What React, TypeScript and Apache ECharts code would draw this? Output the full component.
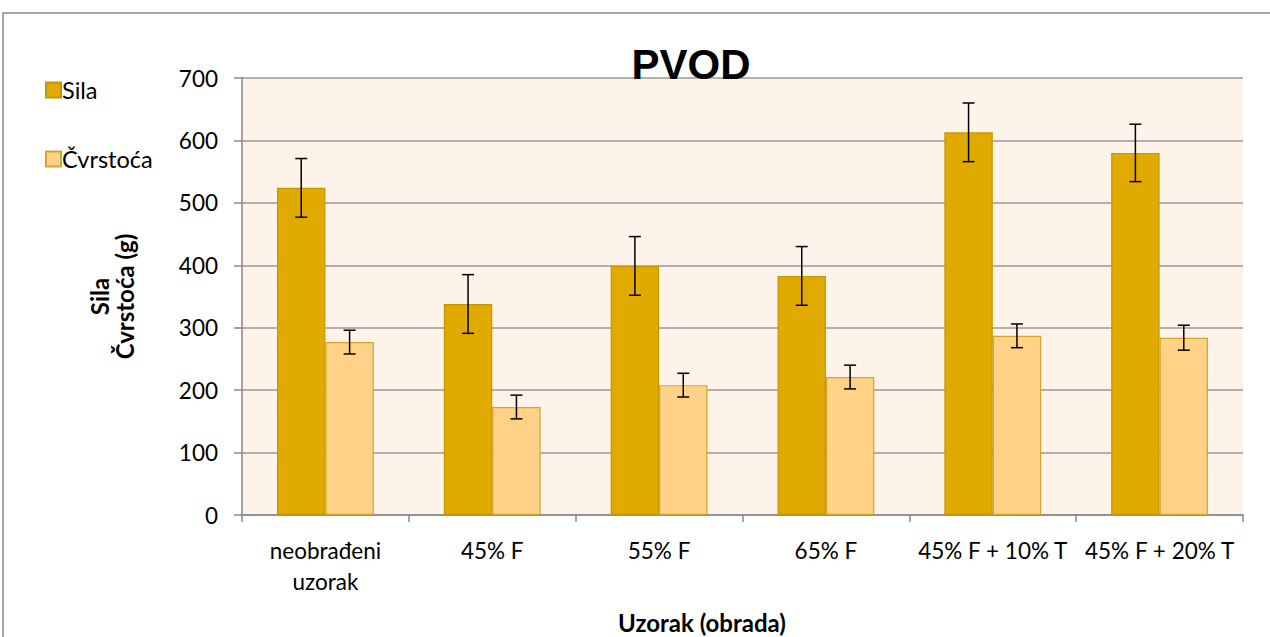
import React, { useEffect, useRef } from "react";
import * as echarts from "echarts";

const categories = ["neobrađeni\nuzorak", "45% F", "55% F", "65% F", "45% F + 10% T", "45% F + 20% T"];
const silaValues = [524, 338, 399, 383, 613, 580];
const silaErrors = [47, 47, 47, 47, 47, 46];
const cvrstocaValues = [277, 173, 208, 221, 287, 284];
const cvrstocaErrors = [19, 19, 19, 19, 19, 20];
const yTicks = { min: 0, max: 700, interval: 100 };
const xAxisTitle = "Uzorak (obrada)";

const FONT = "Lato, 'Open Sans', sans-serif";

function errorSeries(values: number[], errors: number[], side: number) {
  return {
    type: "custom",
    z: 10,
    silent: true,
    data: values.map((v, i) => [i, v - errors[i], v + errors[i]]),
    renderItem: (params: any, api: any) => {
      const i = api.value(0);
      const lo = api.coord([i, api.value(1)]);
      const hi = api.coord([i, api.value(2)]);
      const band = api.size([1, 0])[0];
      const barW = (band * 0.58) / 2;
      const x = lo[0] + side * barW / 2;
      const cap = 6;
      const st = { stroke: "#000", lineWidth: 1.5 };
      return {
        type: "group",
        children: [
          { type: "line", shape: { x1: x, y1: lo[1], x2: x, y2: hi[1] }, style: st },
          { type: "line", shape: { x1: x - cap, y1: lo[1], x2: x + cap, y2: lo[1] }, style: st },
          { type: "line", shape: { x1: x - cap, y1: hi[1], x2: x + cap, y2: hi[1] }, style: st },
        ],
      };
    },
  };
}

export default function App() {
  const ref = useRef<HTMLDivElement>(null);
  useEffect(() => {
    if (!ref.current) return;
    const chart = echarts.init(ref.current, null, { renderer: "svg" });
    chart.setOption({
      animation: false,
      backgroundColor: "#ffffff",
      title: {
        text: "PVOD",
        left: 686,
        textAlign: "center",
        top: 38,
        textStyle: { fontFamily: "'Liberation Sans', Arial, sans-serif", fontSize: 42, fontWeight: "bold", color: "#000" },
      },
      legend: {
        orient: "vertical",
        left: 40,
        top: 73,
        itemWidth: 15,
        itemHeight: 15,
        itemGap: 45,
        icon: "rect",
        textStyle: { fontFamily: FONT, fontSize: 23.5, color: "#000", padding: [0, 0, 0, -4] },
        data: ["Sila", "Čvrstoća"],
      },
      graphic: [
        {
          type: "rect",
          shape: { x: 3, y: 13, width: 1300, height: 700 },
          style: { fill: "none", stroke: "#888", lineWidth: 1.5 },
          z: 0,
        },
        {
          type: "text",
          x: 702,
          y: 622,
          style: {
            text: xAxisTitle,
            fontFamily: FONT,
            fontSize: 24,
            fontWeight: "bold",
            fill: "#000",
            align: "center",
            verticalAlign: "middle",
          },
        },
      ],
      grid: {
        left: 242,
        right: 27,
        top: 78,
        bottom: 122,
        backgroundColor: "#FEF3E8",
        show: true,
        borderWidth: 0,
        outerBoundsMode: "none",
        containLabel: false,
      },
      xAxis: {
        type: "category",
        data: categories,
        axisLine: { lineStyle: { color: "#888", width: 1.5 } },
        axisTick: { show: true, length: 7, lineStyle: { color: "#888", width: 1.5 } },
        axisLabel: { fontFamily: FONT, fontSize: 22.5, color: "#000", margin: 20, lineHeight: 31, interval: 0 },
      },
      yAxis: {
        type: "value",
        min: yTicks.min,
        max: yTicks.max,
        interval: yTicks.interval,
        name: "Sila\nČvrstoća (g)",
        nameLocation: "middle",
        nameGap: 105,
        nameRotate: 90,
        nameTextStyle: { fontFamily: FONT, fontSize: 24, fontWeight: "bold", color: "#000", lineHeight: 25 },
        axisLine: { show: true, lineStyle: { color: "#888", width: 1.5 } },
        axisTick: { show: true, length: 8, lineStyle: { color: "#888", width: 1.5 } },
        splitLine: { lineStyle: { color: "#999", width: 1.5 } },
        axisLabel: { fontFamily: FONT, fontSize: 22.5, color: "#000", margin: 24 },
      },
      series: [
        {
          name: "Sila",
          type: "bar",
          data: silaValues,
          barGap: "0%",
          barCategoryGap: "42%",
          itemStyle: { color: "#E0AA00", borderColor: "#C39500", borderWidth: 1.2 },
        },
        {
          name: "Čvrstoća",
          type: "bar",
          data: cvrstocaValues,
          barGap: "0%",
          barCategoryGap: "42%",
          itemStyle: { color: "#FFD287", borderColor: "#D4A52A", borderWidth: 1.2 },
        },
        errorSeries(silaValues, silaErrors, -1),
        errorSeries(cvrstocaValues, cvrstocaErrors, 1),
      ],
    });
    return () => chart.dispose();
  }, []);
  return <div ref={ref} style={{ position: "fixed", left: 0, top: 0, width: 1270, height: 637 }} />;
}
